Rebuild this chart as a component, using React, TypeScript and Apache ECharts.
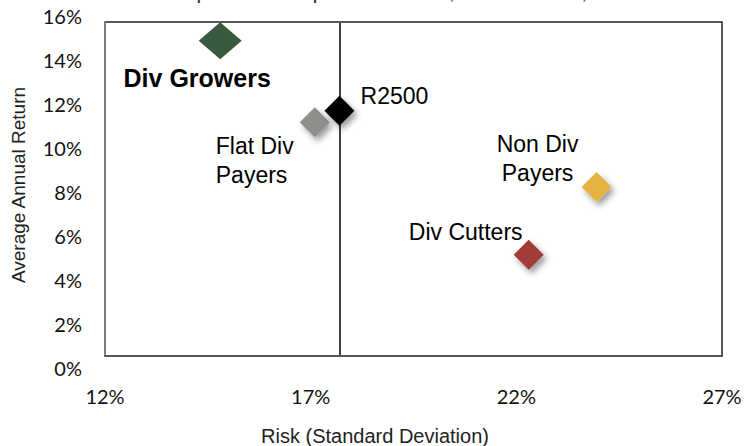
import React, { useEffect, useRef } from "react";
import * as echarts from "echarts";

const names = ["Div Growers", "Flat Div\nPayers", "R2500", "Non Div\nPayers", "Div Cutters"];
const riskValues = [14.8, 17.1, 17.7, 23.95, 22.3];
const returnValues = [15.1, 11.2, 11.75, 8.1, 4.85];
const colors = ["#3a5a3d", "#8e8f8a", "#000000", "#e5b343", "#a33b37"];
const xTicks = [12, 17, 22, 27];
const yTicks = [0, 2, 4, 6, 8, 10, 12, 14, 16];
const refX = 17.7;
const refY = 11.7;

const labelOffsets: Record<string, any> = {
  "Div Growers": { offset: [-23, 37], align: "center", fontWeight: "bold", fontSize: 25 },
  "Flat Div\nPayers": { offset: [-99, 38], align: "left", fontSize: 23 },
  R2500: { offset: [55, -15], align: "center", fontSize: 23 },
  "Non Div\nPayers": { offset: [-59, -28], align: "center", fontSize: 23 },
  "Div Cutters": { offset: [-63, -23], align: "center", fontSize: 23 },
};

export default function App() {
  const ref = useRef<HTMLDivElement>(null);
  useEffect(() => {
    if (!ref.current) return;
    const chart = echarts.init(ref.current, null, { renderer: "svg" });
    const data = names.map((n, i) => {
      const lo = labelOffsets[n];
      return {
        name: n,
        value: [riskValues[i], returnValues[i]],
        symbolSize: i === 0 ? [43, 37] : [30, 30],
        itemStyle:
          i === 0
            ? { color: colors[i], opacity: 1 }
            : {
                color: colors[i],
                opacity: 1,
                shadowBlur: 6,
                shadowColor: "rgba(0,0,0,0.4)",
                shadowOffsetX: 3,
                shadowOffsetY: 4,
              },
        label: {
          show: true,
          position: "inside",
          offset: lo.offset,
          align: lo.align,
          verticalAlign: "middle",
          fontSize: lo.fontSize,
          fontWeight: lo.fontWeight || "normal",
          lineHeight: 29,
          color: "#000",
          fontFamily: "Liberation Sans, Arial, sans-serif",
          formatter: "{b}",
        },
      };
    });
    chart.setOption({
      animation: false,
      backgroundColor: "#fff",
      grid: [
        { left: 105, right: 24, top: 22, bottom: 90, show: true, borderColor: "#222", borderWidth: 1.5 },
        { left: 105, right: 24, top: 16, bottom: 78, show: false },
      ],
      xAxis: [
        {
          gridIndex: 0,
          type: "value",
          min: xTicks[0],
          max: xTicks[xTicks.length - 1],
          interval: 5,
          axisLine: { show: true, lineStyle: { color: "#555", width: 1.5 } },
          axisTick: { show: false },
          splitLine: { show: false },
          axisLabel: {
            formatter: "{value}%",
            margin: 30,
            fontSize: 20,
            color: "#111",
            fontFamily: "Lato, sans-serif",
          },
        },
        { gridIndex: 1, type: "value", min: 12, max: 27, show: false },
      ],
      yAxis: [
        {
          gridIndex: 0,
          type: "value",
          min: 0,
          max: 16,
          interval: 2,
          axisLine: { show: true, lineStyle: { color: "#888", width: 1.5 } },
          axisTick: { show: false },
          splitLine: { show: false },
          axisLabel: { show: false },
        },
        {
          gridIndex: 1,
          type: "value",
          min: yTicks[0],
          max: yTicks[yTicks.length - 1],
          interval: 2,
          axisLine: { show: false },
          axisTick: { show: false },
          splitLine: { show: false },
          axisLabel: {
            formatter: "{value}%",
            margin: 23,
            fontSize: 20,
            color: "#111",
            fontFamily: "Lato, sans-serif",
          },
        },
      ],
      graphic: [
        {
          type: "text",
          left: 114,
          top: -21,
          style: {
            text: "Small Cap Stocks: Superior Returns, 1984 - 2013, Annualized",
            fontSize: 22,
            fontFamily: "Lato, sans-serif",
            fill: "#333",
          },
        },
        {
          type: "text",
          x: 18,
          y: 185,
          rotation: Math.PI / 2,
          style: {
            text: "Average Annual Return",
            fontSize: 19,
            fontFamily: "Liberation Sans, Arial, sans-serif",
            fill: "#222",
            align: "center",
            verticalAlign: "middle",
          },
        },
        {
          type: "text",
          x: 375,
          y: 436,
          style: {
            text: "Risk (Standard Deviation)",
            fontSize: 20,
            fontFamily: "Liberation Sans, Arial, sans-serif",
            fill: "#222",
            align: "center",
            verticalAlign: "middle",
          },
        },
      ],
      series: [
        {
          type: "scatter",
          xAxisIndex: 0,
          yAxisIndex: 0,
          symbol: "diamond",
          data,
          z: 3,
          markLine: {
            silent: true,
            symbol: "none",
            label: { show: false },
            lineStyle: { color: "#000", width: 1.5, type: "solid" },
            z: 1,
            data: [
              [
                { coord: [refX, 15.95] },
                { coord: [refX, 0.05] },
              ],
              [
                { coord: [11.85, refY] },
                { coord: [27, refY] },
              ],
            ],
          },
        },
      ],
    });
    return () => chart.dispose();
  }, []);
  return (
    <div
      ref={ref}
      style={{ position: "fixed", left: 0, top: 0, width: 746, height: 446 }}
    />
  );
}
